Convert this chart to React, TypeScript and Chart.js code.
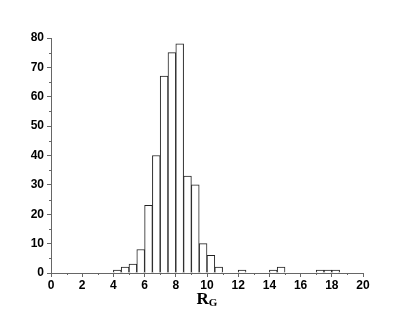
import { useEffect, useRef } from "react";
import { Chart, registerables } from "chart.js";

Chart.register(...registerables);

// Histogram of R_G: bin starts (width 0.5) and counts
const binStarts = [4, 4.5, 5, 5.5, 6, 6.5, 7, 7.5, 8, 8.5, 9, 9.5, 10, 10.5, 12, 14, 14.5, 17, 17.5, 18];
const counts = [1, 2, 3, 8, 23, 40, 67, 75, 78, 33, 30, 10, 6, 2, 1, 1, 2, 1, 1, 1];
const binWidth = 0.5;
const xMinorTicks = [1, 3, 5, 7, 9, 11, 13, 15, 17, 19];
const yMinorTicks = [5, 15, 25, 35, 45, 55, 65, 75];
const axisTitleMain = "R";
const axisTitleSub = "G";

const AXIS_COLOR = "#666";

const decorPlugin = {
  id: "decor",
  afterDraw(chart: any) {
    const ctx = chart.ctx as CanvasRenderingContext2D;
    const xs = chart.scales.x;
    const ys = chart.scales.y;
    const area = chart.chartArea;
    ctx.save();
    ctx.strokeStyle = AXIS_COLOR;
    ctx.lineWidth = 1;
    ctx.beginPath();
    for (const v of xMinorTicks) {
      const px = Math.round(xs.getPixelForValue(v)) + 0.5;
      ctx.moveTo(px, area.bottom);
      ctx.lineTo(px, area.bottom + 2);
    }
    for (const v of yMinorTicks) {
      const py = Math.round(ys.getPixelForValue(v)) + 0.5;
      ctx.moveTo(area.left, py);
      ctx.lineTo(area.left - 2, py);
    }
    ctx.stroke();
    // axis title R_G
    ctx.fillStyle = "#000";
    ctx.textBaseline = "alphabetic";
    const mainFont = 'bold 17px "Liberation Serif"';
    const subFont = 'bold 11px "Liberation Serif"';
    ctx.font = mainFont;
    const wR = ctx.measureText(axisTitleMain).width;
    ctx.font = subFont;
    const wG = ctx.measureText(axisTitleSub).width;
    const cx = (area.left + area.right) / 2;
    const x0 = cx - (wR + wG) / 2;
    ctx.font = mainFont;
    ctx.fillText(axisTitleMain, x0, 304);
    ctx.font = subFont;
    ctx.fillText(axisTitleSub, x0 + wR, 306);
    ctx.restore();
  },
};

export default function App() {
  const ref = useRef<HTMLCanvasElement | null>(null);
  useEffect(() => {
    if (!ref.current) return;
    const tickFont = { family: '"Liberation Sans", Arial, sans-serif', size: 12, weight: "bold" as const };
    const chart = new Chart(ref.current, {
      type: "bar",
      data: {
        datasets: [
          {
            data: binStarts.map((s, i) => ({ x: s + binWidth / 2, y: counts[i] })),
            backgroundColor: "#fff",
            borderColor: "#222",
            borderWidth: 1,
            barPercentage: 1,
            categoryPercentage: 1,
          },
        ],
      },
      options: {
        animation: false,
        responsive: false,
        maintainAspectRatio: false,
        layout: { padding: { top: 38, right: 52, bottom: 0, left: 0 } },
        plugins: { legend: { display: false }, tooltip: { enabled: false } },
        scales: {
          x: {
            type: "linear",
            min: 0,
            max: 20,
            offset: false,
            grid: { display: true, drawOnChartArea: false, drawTicks: true, tickLength: 4, color: AXIS_COLOR, offset: false },
            border: { display: true, color: AXIS_COLOR },
            ticks: { stepSize: 2, font: tickFont, color: "#000", padding: 1, maxRotation: 0 },
            afterFit: (s: any) => {
              s.height = 40;
            },
          },
          y: {
            min: 0,
            max: 80,
            grid: { display: true, drawOnChartArea: false, drawTicks: true, tickLength: 4, color: AXIS_COLOR },
            border: { display: true, color: AXIS_COLOR },
            ticks: { stepSize: 10, font: tickFont, color: "#000", padding: 3 },
            afterFit: (s: any) => {
              s.width = 51;
            },
          },
        },
      },
      plugins: [decorPlugin],
    });
    return () => chart.destroy();
  }, []);
  return (
    <div style={{ position: "fixed", left: 0, top: 0, width: 415, height: 313, background: "#fff" }}>
      <canvas ref={ref} width={415} height={313} style={{ width: 415, height: 313, display: "block" }} />
    </div>
  );
}
